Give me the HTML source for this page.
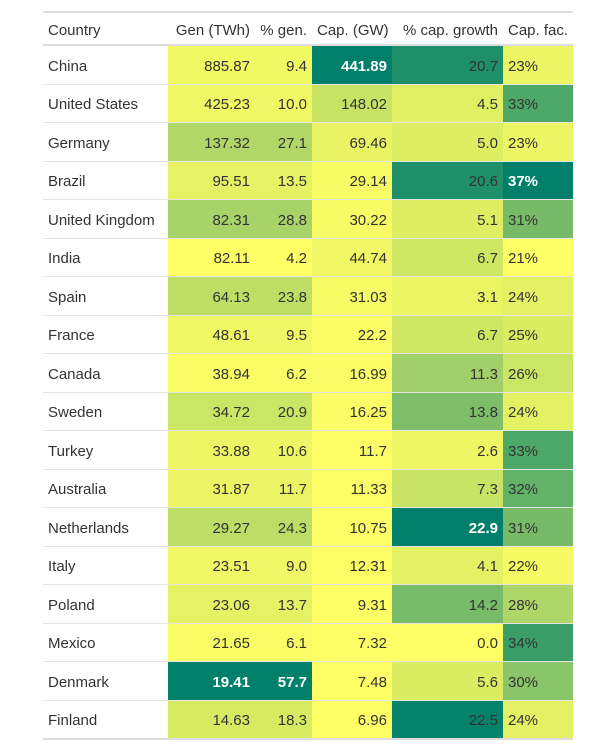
<!DOCTYPE html>
<html><head><meta charset="utf-8"><style>
body{margin:0;background:#fff;font-family:"Liberation Sans",sans-serif;}
table{position:absolute;left:43px;top:11px;border-collapse:collapse;font-size:15px;color:#333;width:530px;table-layout:fixed;border-top:2px solid #ddd;border-bottom:2px solid #ddd;}
th{font-weight:normal;height:28px;padding:3px 5px 0 5px;border-bottom:2px solid #ddd;white-space:nowrap;}
td{height:34.5px;padding:3px 5px 0 5px;border-top:1px solid #e4e4e4;white-space:nowrap;}
.r{text-align:right}.l{text-align:left}
.mx{color:#fff;font-weight:bold}
</style></head><body>
<table>
<colgroup><col style="width:125px"><col style="width:87px"><col style="width:57px"><col style="width:80px"><col style="width:111px"><col style="width:70px"></colgroup>
<thead><tr>
<th class="l">Country</th>
<th class="r">Gen (TWh)</th>
<th class="r">% gen.</th>
<th class="r">Cap. (GW)</th>
<th class="r">% cap. growth</th>
<th class="l">Cap. fac.</th>
</tr></thead><tbody id="tb"></tbody></table>
<script>
const countries=["China","United States","Germany","Brazil","United Kingdom","India","Spain","France","Canada","Sweden","Turkey","Australia","Netherlands","Italy","Poland","Mexico","Denmark","Finland"];
const gen=[885.87,425.23,137.32,95.51,82.31,82.11,64.13,48.61,38.94,34.72,33.88,31.87,29.27,23.51,23.06,21.65,19.41,14.63];
const pctGen=[9.4,10.0,27.1,13.5,28.8,4.2,23.8,9.5,6.2,20.9,10.6,11.7,24.3,9.0,13.7,6.1,57.7,18.3];
const cap=[441.89,148.02,69.46,29.14,30.22,44.74,31.03,22.2,16.99,16.25,11.7,11.33,10.75,12.31,9.31,7.32,7.48,6.96];
const capGrowth=[20.7,4.5,5.0,20.6,5.1,6.7,3.1,6.7,11.3,13.8,2.6,7.3,22.9,4.1,14.2,0.0,5.6,22.5];
const capFac=[23,33,23,37,31,21,24,25,26,24,33,32,31,22,28,34,30,24];
const stops=[[255,255,102],[217,236,98],[159,206,106],[78,168,104],[0,128,106]];
function col(t){t=Math.max(0,Math.min(1,t))*4;const i=Math.min(3,Math.floor(t)),f=t-i;const a=stops[i],b=stops[i+1];return `rgb(${a.map((v,k)=>Math.round(v+(b[k]-v)*f)).join(',')})`;}
function lv(arr,v){const mn=Math.min(...arr),mx=Math.max(...arr);return (v-mn)/(mx-mn);}
const tb=document.getElementById('tb');
countries.forEach((c,i)=>{
 const tr=document.createElement('tr');
 
 
 const cells=[
  [c,'l',null,false,'country-cell'],
  [gen[i].toFixed(2),'r',lv(pctGen,pctGen[i]),pctGen[i]===Math.max(...pctGen),'gen-cell'],
  [pctGen[i].toFixed(1),'r',lv(pctGen,pctGen[i]),pctGen[i]===Math.max(...pctGen),'pct-gen-cell'],
  [String(cap[i]),'r',lv(cap,cap[i]),cap[i]===Math.max(...cap),'cap-cell'],
  [capGrowth[i].toFixed(1),'r',lv(capGrowth,capGrowth[i]),capGrowth[i]===Math.max(...capGrowth),'cap-growth-cell'],
  [capFac[i]+'%','l',lv(capFac,capFac[i]),capFac[i]===Math.max(...capFac),'cap-fac-cell']];
 cells.forEach((d,j)=>{
  const td=document.createElement('td');
  
  
  td.className=d[1]+(d[3]?' mx':'');
  if(d[2]!==null)td.style.background=col(d[2]);
  td.textContent=d[0];tr.appendChild(td);});
 tb.appendChild(tr);});
</script></body></html>
